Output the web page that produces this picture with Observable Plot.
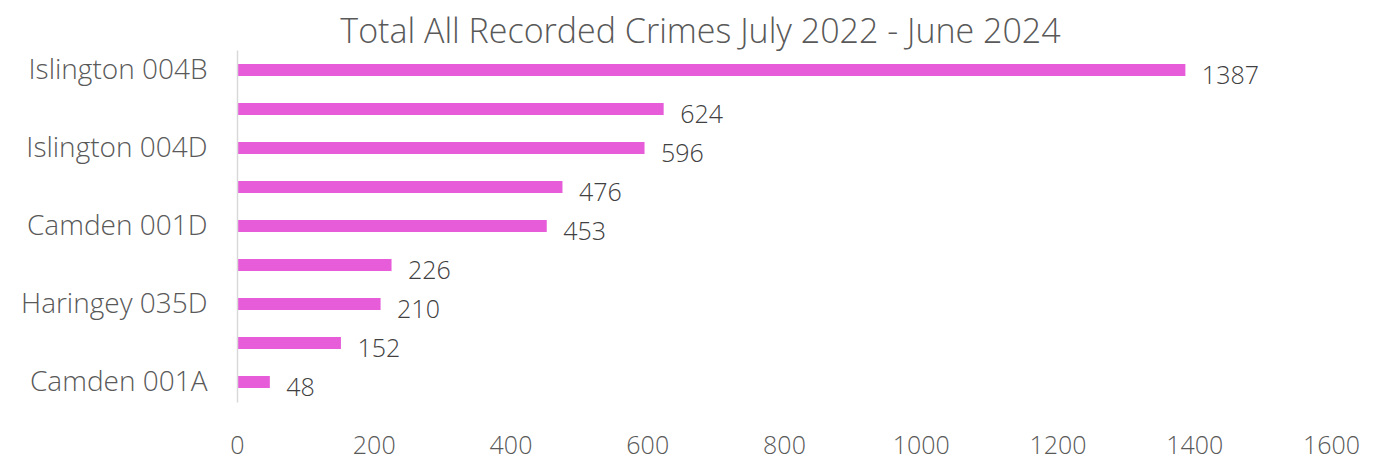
<!DOCTYPE html>
<html>
<head>
<meta charset="utf-8">
<script src="https://cdn.jsdelivr.net/npm/d3@7"></script>
<script src="https://cdn.jsdelivr.net/npm/@observablehq/plot@0.6"></script>
<style>
  html, body { margin: 0; padding: 0; background: #fff; }
  #title { width: 1345px; padding-left: 28px; height: 45px; line-height: 60px; text-align: center; overflow: visible;
           font-family: "Open Sans", Lato, sans-serif; font-weight: 300; font-size: 34px; color: #595959; white-space: nowrap; }
</style>
</head>
<body>
<div id="title">Total All Recorded Crimes July 2022 - June 2024</div>
<div id="chart"></div>
<script>
// Category labels (the source shows only every other label)
const categories = ["Islington 004B", "", "Islington 004D", "", "Camden 001D", "", "Haringey 035D", "", "Camden 001A"];
const values = [1387, 624, 596, 476, 453, 226, 210, 152, 48];
const xTicks = [0, 200, 400, 600, 800, 1000, 1200, 1400, 1600];

const data = values.map((v, i) => ({i, label: categories[i], value: v}));

const plot = Plot.plot({
  width: 1373,
  height: 416,
  marginTop: 5.5,
  marginBottom: 58.5,
  marginLeft: 237,
  marginRight: 42,
  style: {fontFamily: "'Open Sans', Lato, sans-serif", fontSize: "25px", color: "#595959", background: "#fff"},
  x: {domain: [0, 1600], ticks: xTicks, tickFormat: d3.format("d"), label: null, tickSize: 0, tickPadding: 33},
  y: {domain: data.map(d => d.i), paddingInner: 0.69, paddingOuter: 0.345, label: null, tickSize: 0, tickPadding: 30,
      tickFormat: i => categories[i]},
  marks: [
    Plot.barX(data, {x: "value", y: "i", fill: "#E65CD9"}),
    Plot.ruleX([0], {stroke: "#D9D9D9", strokeWidth: 1.5}),
    Plot.text(data, {x: "value", y: "i", text: d => String(d.value), textAnchor: "start", dx: 16, dy: 5,
                     fill: "#404040", fontSize: 25})
  ]
});
plot.querySelectorAll("text").forEach(t => t.style.fontWeight = "300");
plot.querySelectorAll("g[aria-label='y-axis tick label'] text").forEach(t => t.style.fontSize = "28px");
document.getElementById("chart").appendChild(plot);
</script>
</body>
</html>
